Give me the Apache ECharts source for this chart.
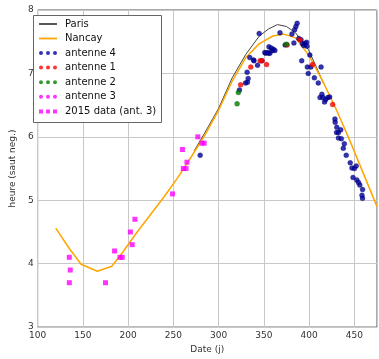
<!DOCTYPE html>
<html><head><meta charset="utf-8">
<script src="https://cdn.jsdelivr.net/npm/echarts@6/dist/echarts.min.js"></script>
<style>html,body{margin:0;padding:0;background:#fff}#c{width:379px;height:359px}</style>
</head><body><div id="c"></div>
<script>
const xTicks = [100,150,200,250,300,350,400,450];
const yTicks = [3,4,5,6,7,8];
const seriesNames = ['Paris','Nancay','antenne 4','antenne 1','antenne 2','antenne 3','2015 data (ant. 3)'];
const paris = [[273,5.78],[285,6.07],[300,6.45],[315,6.93],[330,7.3],[345,7.59],[355,7.7],[365,7.77],[375,7.74],[385,7.64],[399,7.38],[408,7.1],[416,6.84]];
const nancay = [[120,4.56],[135,4.24],[148,3.99],[166,3.88],[182,3.96],[195,4.2],[210,4.5],[225,4.78],[240,5.06],[255,5.36],[270,5.69],[285,6.03],[300,6.42],[315,6.88],[330,7.25],[345,7.47],[360,7.59],[372,7.62],[385,7.56],[400,7.28],[415,6.88],[430,6.43],[445,5.94],[460,5.42],[475,4.9]];
const antenne4 = [[279.6,5.71],[323,6.74],[329.7,6.85],[331.9,6.86],[332.6,6.92],[331.5,7.02],[334.4,7.25],[338.7,7.21],[339,7.2],[343,7.13],[344.8,7.63],[347.7,7.2],[351,7.33],[352,7.32],[354.2,7.33],[355.2,7.32],[355.6,7.42],[356.6,7.32],[358.1,7.4],[359.5,7.36],[360.6,7.38],[362.2,7.36],[367.8,7.64],[373.5,7.45],[381,7.62],[383.2,7.48],[384,7.69],[385.4,7.74],[386.8,7.79],[388.6,7.55],[391,7.53],[391.8,7.2],[392.6,7.47],[394,7.44],[395.4,7.47],[397.2,7.49],[397.6,7.43],[400.8,7.29],[398,7.1],[399,7.0],[401.9,7.1],[405.8,6.93],[410.1,6.85],[413.2,7.1],[412,6.62],[414.1,6.67],[415.2,6.62],[417,6.55],[418.4,6.59],[420.6,6.62],[422.7,6.63],[428.5,6.28],[428.8,6.23],[430.6,6.15],[430.3,6.07],[432.4,6.07],[434.9,6.11],[432.4,5.98],[435.6,5.97],[438.9,5.89],[437.8,5.82],[441,5.71],[445.4,5.59],[447.3,5.51],[450,5.5],[452,5.54],[448.5,5.36],[452.7,5.32],[454.5,5.28],[456,5.24],[459,5.17],[458.4,5.08],[459,5.03]];
const antenne1 = [[324.3,6.82],[335.5,7.1],[345.8,7.2],[348,7.2],[353,7.14],[375.7,7.45],[390,7.53],[403.7,7.14],[426,6.51]];
const antenne2 = [[320.4,6.52],[321.8,6.7],[375,7.46]];
const antenne3 = [];
const data2015 = [[135,4.1],[136,3.9],[135,3.7],[175,3.7],[185,4.2],[191,4.1],[193.5,4.1],[202.5,4.5],[204.5,4.3],[207.5,4.7],[249,5.1],[260,5.8],[265,5.6],[261,5.5],[264,5.5],[277,6.0],[281.5,5.9],[284,5.9]];

const FONT = 'DejaVu Sans';
const lineIcon = 'path://M0,0L16,0L16,1.6L0,1.6Z';
const dotsIcon = 'path://M0,2a2,2 0 1,0 4,0a2,2 0 1,0 -4,0ZM7,2a2,2 0 1,0 4,0a2,2 0 1,0 -4,0ZM14,2a2,2 0 1,0 4,0a2,2 0 1,0 -4,0Z';
const sqIcon = 'path://M0,0h4v4h-4zM7,0h4v4h-4zM14,0h4v4h-4z';
const icons = [lineIcon, lineIcon, dotsIcon, dotsIcon, dotsIcon, dotsIcon, sqIcon];
const rowCenters = [24, 38.5, 53, 67.6, 82.2, 96.8, 111.4];

const legends = seriesNames.map((n, i) => ({
  data: [n], left: 39, top: rowCenters[i] - 7, padding: 0,
  itemWidth: 18, itemHeight: 4.5, icon: icons[i], selectedMode: false, z: 5,
  itemStyle: { borderWidth: 0 },
  textStyle: { fontFamily: FONT, fontSize: 10, color: '#111', lineHeight: 14, padding: [0,0,0,3] }
}));

const chart = echarts.init(document.getElementById('c'), null, { renderer: 'canvas' });
chart.setOption({
  animation: false,
  backgroundColor: '#fff',
  grid: { left: 29, right: 2, top: 10, bottom: 24, show: true, borderColor: '#555', borderWidth: 1, backgroundColor: 'transparent' },
  graphic: [{ type: 'rect', shape: { x: 33.5, y: 15.5, width: 128, height: 107 }, style: { fill: '#fff', stroke: '#666', lineWidth: 1 }, z: 4 }],
  legend: legends,
  xAxis: {
    type: 'value', min: 100, max: 475, interval: 50,
    name: 'Date (j)', nameLocation: 'middle', nameGap: 17,
    nameTextStyle: { fontFamily: FONT, fontSize: 9, color: '#333' },
    axisLine: { show: false }, axisTick: { show: false },
    axisLabel: { fontFamily: FONT, fontSize: 9, color: '#333', margin: 4, showMaxLabel: false },
    splitLine: { show: true, lineStyle: { color: '#c8c8c8', width: 1 } }
  },
  yAxis: {
    type: 'value', min: 3, max: 8, interval: 1,
    name: 'heure (saut neg.)', nameLocation: 'middle', nameGap: 15,
    nameTextStyle: { fontFamily: FONT, fontSize: 9, color: '#333' },
    axisLine: { show: false }, axisTick: { show: false },
    axisLabel: { fontFamily: FONT, fontSize: 9, color: '#333', margin: 4 },
    splitLine: { show: true, lineStyle: { color: '#c8c8c8', width: 1 } }
  },
  series: [
    { name: seriesNames[0], type: 'line', data: paris, color: '#444', showSymbol: false, symbol: 'none', lineStyle: { color: '#444', width: 1 }, z: 2 },
    { name: seriesNames[1], type: 'line', data: nancay, color: '#FFA500', showSymbol: false, symbol: 'none', lineStyle: { color: '#FFA500', width: 1.5 }, z: 2 },
    { name: seriesNames[2], type: 'scatter', data: antenne4, color: '#0000A0', symbolSize: 5, itemStyle: { color: '#0000A0', borderColor: '#000040', borderWidth: 0.3 }, z: 3 },
    { name: seriesNames[3], type: 'scatter', data: antenne1, color: '#FF0000', symbolSize: 5, itemStyle: { color: '#FF0000', borderColor: '#A00000', borderWidth: 0.3 }, z: 3 },
    { name: seriesNames[4], type: 'scatter', data: antenne2, color: '#008000', symbolSize: 5, itemStyle: { color: '#008000', borderColor: '#004000', borderWidth: 0.3 }, z: 3 },
    { name: seriesNames[5], type: 'scatter', data: antenne3, color: '#FF00FF', symbolSize: 5, itemStyle: { color: '#FF00FF' }, z: 3 },
    { name: seriesNames[6], type: 'scatter', data: data2015, color: '#FF00FF', symbol: 'rect', symbolSize: 5, itemStyle: { color: '#FF00FF' }, z: 3 }
  ]
});
</script></body></html>
